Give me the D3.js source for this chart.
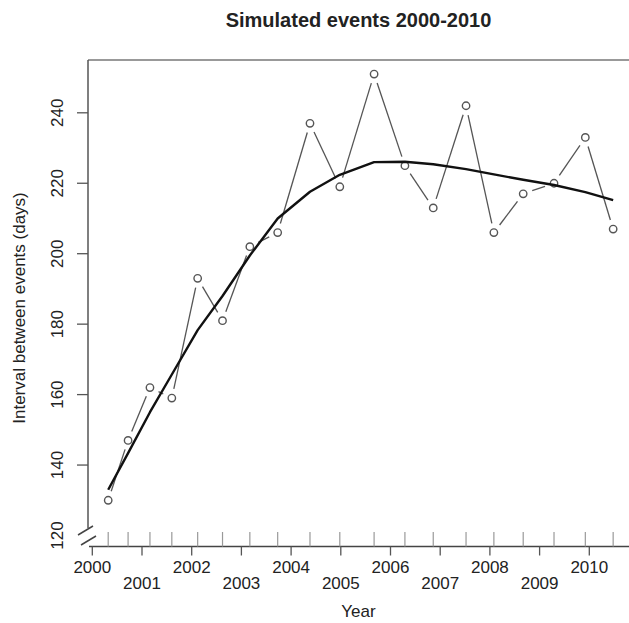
<!DOCTYPE html>
<html>
<head>
<meta charset="utf-8">
<script src="https://cdn.jsdelivr.net/npm/d3@7"></script>
<style>
  body { margin: 0; background: #fff; }
  text { font-family: "Liberation Sans", Arial, sans-serif; fill: #222; }
</style>
</head>
<body>
<svg width="629" height="623"></svg>
<script>
// Event times (decimal years) and interval to previous event (days)
const eventYears = [2000.32, 2000.72, 2001.16, 2001.60, 2002.12, 2002.62, 2003.17, 2003.73, 2004.38, 2004.98,
  2005.67, 2006.29, 2006.86, 2007.52, 2008.08, 2008.67, 2009.29, 2009.92, 2010.48];
const intervals = [130, 147, 162, 159, 193, 181, 202, 206, 237, 219,
  251, 225, 213, 242, 206, 217, 220, 233, 207];
// lowess smooth of the intervals
const smoothed = [133, 143.4, 155, 165.7, 178.3, 188, 199.5, 210, 217.6, 222.4,
  226, 226.1, 225.4, 224, 222.5, 221, 219.5, 217.5, 215.2];

const yTicks = [120, 140, 160, 180, 200, 220, 240];
const xTicks = [2000, 2001, 2002, 2003, 2004, 2005, 2006, 2007, 2008, 2009, 2010];

const svg = d3.select("svg"),
  width = +svg.attr("width"),
  height = +svg.attr("height");

const plotLeft = 88, plotTop = 60, axisY = 546.5;

const x = d3.scaleLinear().domain([2000, 2010]).range([92.3, 589.3]);
const y = d3.scaleLinear().domain([120, 240]).range([535.5, 112.8]);

const points = eventYears.map((d, i) => ({ x: x(d), y: y(intervals[i]) }));

// Title
svg.append("text")
  .attr("x", 358.5).attr("y", 26.5)
  .attr("text-anchor", "middle")
  .style("font-size", "20px").style("font-weight", "bold")
  .text("Simulated events 2000-2010");

// Top frame line
svg.append("line")
  .attr("x1", plotLeft).attr("x2", width)
  .attr("y1", plotTop).attr("y2", plotTop)
  .attr("stroke", "#777").attr("stroke-width", 1.6);

// Y axis (broken at the bottom)
svg.append("line")
  .attr("x1", plotLeft).attr("x2", plotLeft)
  .attr("y1", plotTop).attr("y2", 528)
  .attr("stroke", "#555").attr("stroke-width", 1.5);

svg.append("g")
  .selectAll("line")
  .data(yTicks.filter(d => d > 120))
  .join("line")
  .attr("x1", 77).attr("x2", plotLeft)
  .attr("y1", d => y(d)).attr("y2", d => y(d))
  .attr("stroke", "#555").attr("stroke-width", 1.3);

svg.append("g")
  .selectAll("text")
  .data(yTicks)
  .join("text")
  .attr("transform", d => `translate(63,${y(d)}) rotate(-90)`)
  .attr("text-anchor", "middle")
  .style("font-size", "17px")
  .text(d => d);

// axis break slashes
svg.append("g")
  .selectAll("line")
  .data([[78, 535, 93, 526], [81, 545, 96, 536]])
  .join("line")
  .attr("x1", d => d[0]).attr("y1", d => d[1])
  .attr("x2", d => d[2]).attr("y2", d => d[3])
  .attr("stroke", "#444").attr("stroke-width", 1.5);

// X axis
svg.append("line")
  .attr("x1", 89).attr("x2", width)
  .attr("y1", axisY).attr("y2", axisY)
  .attr("stroke", "#444").attr("stroke-width", 1.5);

svg.append("g")
  .selectAll("line")
  .data(xTicks)
  .join("line")
  .attr("x1", d => x(d)).attr("x2", d => x(d))
  .attr("y1", axisY).attr("y2", axisY + 9)
  .attr("stroke", "#555").attr("stroke-width", 1.3);

svg.append("g")
  .selectAll("text")
  .data(xTicks)
  .join("text")
  .attr("x", d => x(d))
  .attr("y", d => (d % 2 === 0 ? 572.7 : 589.3))
  .attr("text-anchor", "middle")
  .style("font-size", "17px")
  .text(d => d);

// rug of event times
svg.append("g")
  .selectAll("line")
  .data(eventYears)
  .join("line")
  .attr("x1", d => x(d)).attr("x2", d => x(d))
  .attr("y1", axisY).attr("y2", 532)
  .attr("stroke", "#999").attr("stroke-width", 1.2);

// Axis titles
svg.append("text")
  .attr("x", 358.5).attr("y", 617)
  .attr("text-anchor", "middle")
  .style("font-size", "17px")
  .text("Year");

svg.append("text")
  .attr("transform", "translate(25,308) rotate(-90)")
  .attr("text-anchor", "middle")
  .style("font-size", "17px")
  .text("Interval between events (days)");

// Connecting segments with gaps around points (type = "b")
const gap = 9.5;
const segs = d3.pairs(points).map(([a, b]) => {
  const dx = b.x - a.x, dy = b.y - a.y, len = Math.hypot(dx, dy);
  const ux = dx / len, uy = dy / len;
  return { x1: a.x + ux * gap, y1: a.y + uy * gap, x2: b.x - ux * gap, y2: b.y - uy * gap, ok: len > 2 * gap };
}).filter(d => d.ok);

svg.append("g")
  .selectAll("line")
  .data(segs)
  .join("line")
  .attr("x1", d => d.x1).attr("y1", d => d.y1)
  .attr("x2", d => d.x2).attr("y2", d => d.y2)
  .attr("stroke", "#555").attr("stroke-width", 1.3);

svg.append("g")
  .selectAll("circle")
  .data(points)
  .join("circle")
  .attr("cx", d => d.x).attr("cy", d => d.y)
  .attr("r", 3.7)
  .attr("fill", "none")
  .attr("stroke", "#555").attr("stroke-width", 1.4);

// Smooth curve
const line = d3.line()
  .x((d, i) => x(eventYears[i]))
  .y(d => y(d));

svg.append("path")
  .datum(smoothed)
  .attr("d", line)
  .attr("fill", "none")
  .attr("stroke", "#111")
  .attr("stroke-width", 2.4)
  .attr("stroke-linejoin", "round");
</script>
</body>
</html>
